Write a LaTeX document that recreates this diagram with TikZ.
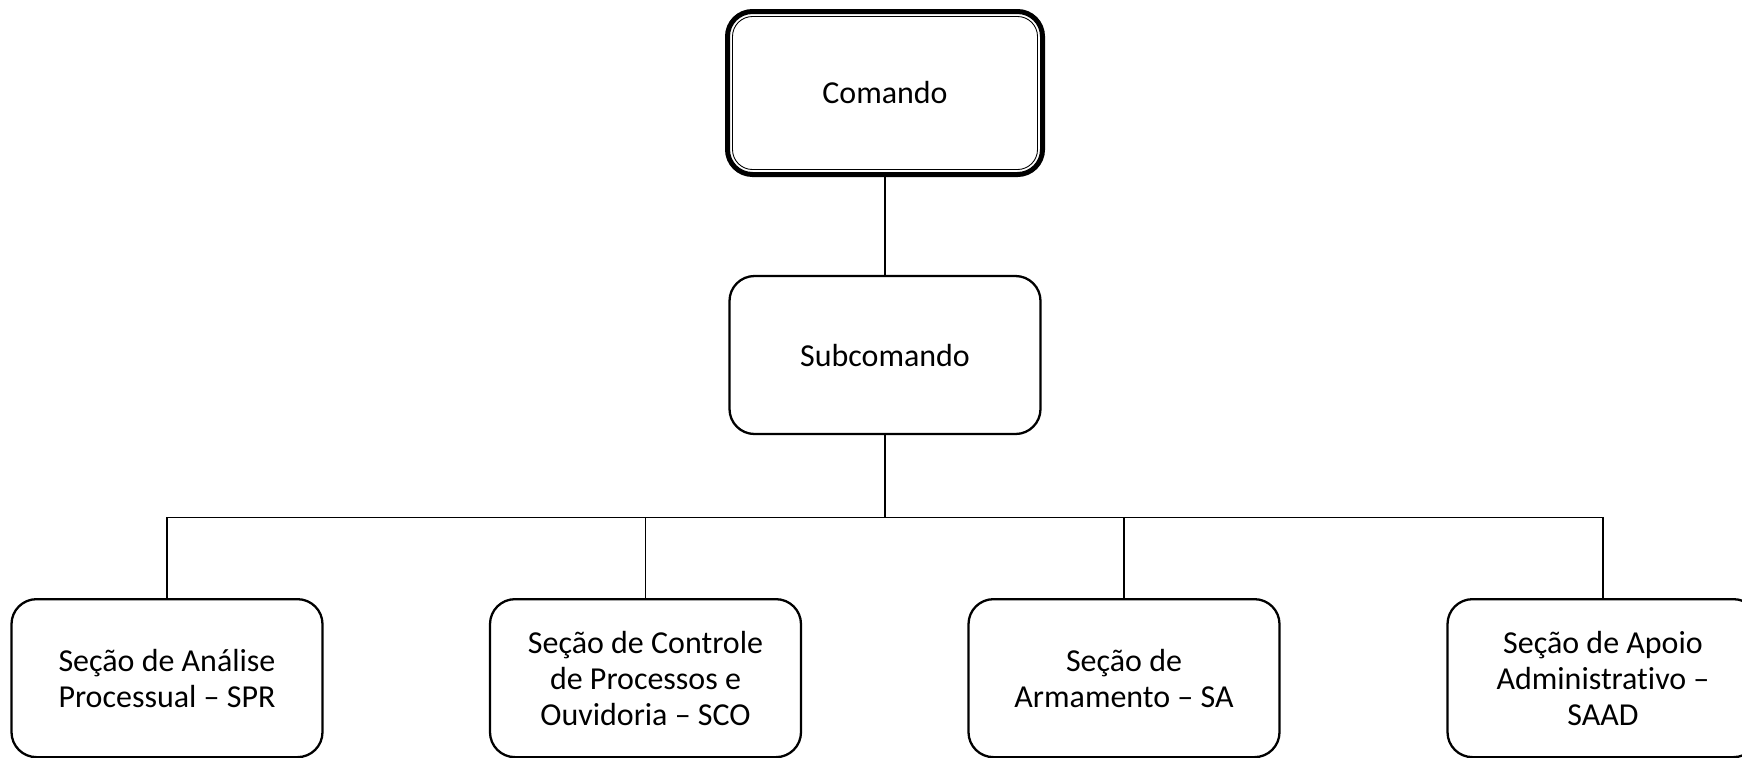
\documentclass[tikz,border=0pt]{standalone}
\usepackage{fontspec}
\setmainfont{Carlito}[Ligatures=NoCommon]
\tikzstyle{unitstyle}=[draw, line width=1.3pt, rounded corners=0.5cm, align=center,
  minimum width=6.22cm, minimum height=3.16cm, font=\fontsize{18.2}{20.5}\selectfont]
\tikzstyle{headstyle}=[unitstyle, line width=2.85pt, minimum width=6.3cm,
  minimum height=3.26cm, rounded corners=0.5cm]
\tikzstyle{line} = [draw, line width=0.6pt]
\newcommand{\orgunit}[2]{node (p#1) [unitstyle] {#2}}

\begin{document}
\begin{tikzpicture}
\useasboundingbox (0,0) rectangle (34.84,-15.14);
% Draw chart elements
\path (17.7,-1.86) node (p1) [headstyle] {Comando};
\draw [line width=0.5pt, rounded corners=0.4cm] ([shift={(0.15,-0.15)}]p1.north west)
  rectangle ([shift={(-0.15,0.15)}]p1.south east);
\path (p1.south) +(  0.0,-3.56) \orgunit{2}{Subcomando};
\path (p2.south) +(-14.36,-4.86) \orgunit{3}{Seção de Análise\\Processual – SPR};
\path (p2.south) +( -4.79,-4.86) \orgunit{4}{Seção de Controle\\de Processos e\\Ouvidoria – SCO};
\path (p2.south) +(  4.78,-4.86) \orgunit{5}{Seção de\\Armamento – SA};
\path (p2.south) +( 14.36,-4.86) \orgunit{6}{Seção de Apoio\\Administrativo –\\SAAD};

% Draw lines between elements
\path (p2.south) +(0,-1.64) coordinate (bus);
\path [line] (p1) -- (p2);
\path [line, line width=0.9pt] (p2) -- (bus);
\path [line] (p3.north) |- (bus);
\path [line] (p4.north) |- (bus);
\path [line] (p5.north) |- (bus);
\path [line] (p6.north) |- (bus);
\end{tikzpicture}
\end{document}
